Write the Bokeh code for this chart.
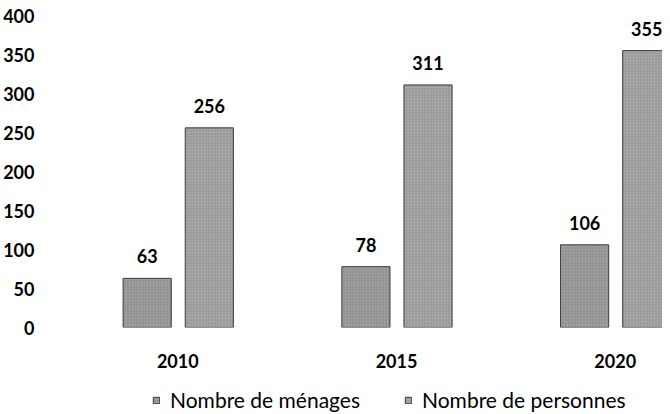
from bokeh.plotting import figure
from bokeh.layouts import column
from bokeh.models import Range1d, FixedTicker, Legend, LegendItem, ColumnDataSource
from bokeh.transform import dodge
from bokeh.embed import file_html
from bokeh.resources import INLINE
from bokeh.core.properties import value

years = [2010, 2015, 2020]
menages = [63, 78, 106]
personnes = [256, 311, 355]
y_ticks = [0, 50, 100, 150, 200, 250, 300, 350, 400]
series_names = ["Nombre de ménages", "Nombre de personnes"]

FONT = "Lato"
style_m = dict(fill_color="#9d9d9d", line_color="#3a3a3a", line_width=1,
               hatch_pattern="dot", hatch_color="#555555", hatch_alpha=0.45, hatch_scale=3)
style_p = dict(fill_color="#a6a6a6", line_color="#3a3a3a", line_width=1,
               hatch_pattern="dot", hatch_color="#5a5a5a", hatch_alpha=0.45, hatch_scale=3)

src = ColumnDataSource(dict(
    x=years, m=menages, pp=personnes,
    mt=[str(v) for v in menages], pt=[str(v) for v in personnes],
))

p = figure(width=662, height=370, output_backend="svg", toolbar_location=None,
           x_range=Range1d(2007.09, 2021.08), y_range=Range1d(0, 409),
           min_border_left=42, min_border_right=0, min_border_top=8,
           min_border_bottom=43)
p.outline_line_color = None
p.xgrid.visible = False
p.ygrid.visible = False

r1 = p.vbar(x=dodge("x", -0.70), top="m", width=1.1, source=src, **style_m)
r2 = p.vbar(x=dodge("x", 0.72), top="pp", width=1.1, source=src, **style_p)

for xo, col, txt in [(-0.70, "m", "mt"), (0.72, "pp", "pt")]:
    p.text(x=dodge("x", xo), y=col, text=txt, source=src,
           text_font=value(FONT), text_font_size="18px", text_color="#000000",
           text_font_style="bold",
           text_align="center", text_baseline="bottom", y_offset=-15)

for ax in (p.xaxis[0], p.yaxis[0]):
    ax.axis_line_color = None
    ax.major_tick_line_color = None
    ax.minor_tick_line_color = None
    ax.major_label_text_font = FONT
    ax.major_label_text_font_size = "18px"
    ax.major_label_text_font_style = "bold"
    ax.major_label_text_color = "#000000"

p.xaxis.ticker = FixedTicker(ticks=years)
p.xaxis.major_label_standoff = 20
p.yaxis.ticker = FixedTicker(ticks=y_ticks)
p.yaxis.major_label_standoff = 10

# legend strip below the chart (same series, drawn out of this strip's view)
p2 = figure(width=662, height=44, output_backend="svg", toolbar_location=None,
            x_range=Range1d(0, 1), y_range=Range1d(0, 1),
            min_border_left=0, min_border_right=0, min_border_top=0,
            min_border_bottom=0)
p2.axis.visible = False
p2.grid.visible = False
p2.outline_line_color = None
e1 = p2.vbar(x="x", top="m", width=1.1, source=src, **style_m)
e2 = p2.vbar(x="x", top="pp", width=1.1, source=src, **style_p)

legend = Legend(items=[LegendItem(label=series_names[0], renderers=[e1]),
                       LegendItem(label=series_names[1], renderers=[e2])],
                orientation="horizontal", location=(102, 2),
                padding=0, margin=0, spacing=44, label_standoff=10,
                glyph_width=8, glyph_height=8,
                label_text_font=FONT, label_text_font_size="21px",
                label_text_color="#000000",
                background_fill_alpha=0, border_line_color=None)
p2.add_layout(legend, "center")

open("out.html", "w").write(file_html(column(p, p2), INLINE))
